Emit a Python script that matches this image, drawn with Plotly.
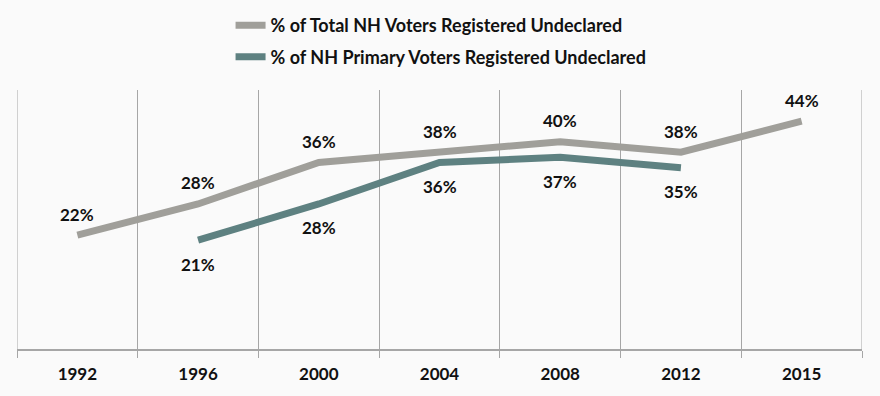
import plotly.graph_objects as go

years = ["1992", "1996", "2000", "2004", "2008", "2012", "2015"]
total_pct = [22, 28, 36, 38, 40, 38, 44]
primary_years = ["1996", "2000", "2004", "2008", "2012"]
primary_pct = [21, 28, 36, 37, 35]

name_total = "% of Total NH Voters Registered Undeclared"
name_primary = "% of NH Primary Voters Registered Undeclared"

gray = "#A09F9A"
teal = "#5E8181"
grid = "#A6A6A6"
font_family = "Lato, 'Open Sans', sans-serif"

fig = go.Figure()
fig.add_trace(go.Scatter(x=years, y=total_pct, mode="lines", name=name_total,
                         line=dict(color=gray, width=7), legendgroup="a"))
fig.add_trace(go.Scatter(x=primary_years, y=primary_pct, mode="lines", name=name_primary,
                         line=dict(color=teal, width=7), legendgroup="b"))

for x, y in zip(years, total_pct):
    fig.add_annotation(x=years.index(x), y=y, text=f"<b>{y}%</b>", showarrow=False, yshift=21,
                       font=dict(size=17, color="#111111", family=font_family))
for x, y in zip(primary_years, primary_pct):
    fig.add_annotation(x=years.index(x), y=y, text=f"<b>{y}%</b>", showarrow=False, yshift=-24,
                       font=dict(size=17, color="#111111", family=font_family))

# plot-area edge lines (category boundaries at the ends)
for edge in (-0.5, len(years) - 0.5):
    fig.add_shape(type="line", xref="x", yref="paper", x0=edge, x1=edge, y0=0, y1=1,
                  line=dict(color=grid, width=1), layer="below")

fig.update_layout(
    width=880, height=396,
    margin=dict(l=17, r=18, t=90, b=47, autoexpand=False),
    paper_bgcolor="#FAFAFA", plot_bgcolor="#FAFAFA",
    font=dict(family=font_family, color="#111111", size=16),
    showlegend=True,
    legend=dict(orientation="v", x=0.262, xanchor="left", y=0.982, yanchor="top",
                yref="container", xref="container",
                font=dict(size=18, family=font_family, color="#111111", weight="bold"),
                tracegroupgap=5, bgcolor="rgba(0,0,0,0)", itemwidth=30),
    xaxis=dict(type="category", categoryorder="array", categoryarray=years,
               tickson="boundaries", showgrid=True, gridcolor=grid, gridwidth=1,
               showline=True, linecolor=grid, linewidth=1.5,
               ticks="outside", ticklen=7, tickcolor=grid, automargin=False,
               ticklabelstandoff=9,
               tickfont=dict(size=17, family=font_family, color="#111111", weight="bold"),
               range=[-0.5, len(years) - 0.5], fixedrange=True),
    yaxis=dict(range=[0, 50], showgrid=False, zeroline=False, showticklabels=False,
               showline=False, fixedrange=True, automargin=False),
)

fig.write_html("out.html", config={"displayModeBar": False},
               post_script="document.body.style.margin='0';document.body.style.background='#FAFAFA';")
